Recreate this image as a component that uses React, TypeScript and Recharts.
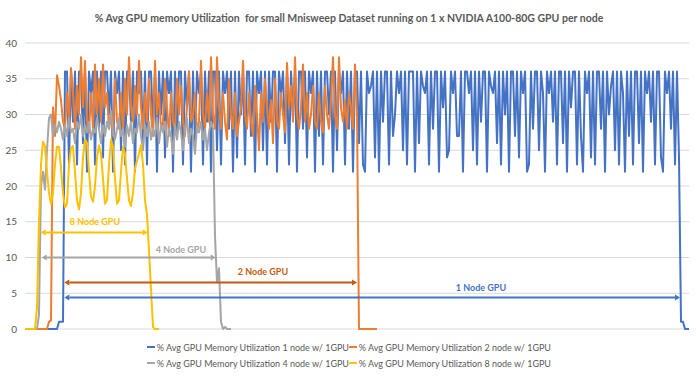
import React from 'react';
import { LineChart, Line, XAxis, YAxis, CartesianGrid, Legend, ReferenceLine, ReferenceDot } from 'recharts';

const title = '% Avg GPU memory Utilization  for small Mnisweep Dataset running on 1 x NVIDIA A100-80G GPU per node';

const yTicks = [0, 5, 10, 15, 20, 25, 30, 35, 40];

// one sample every step of the x axis
const blue1Node = [
  0, 0, 0, 0, 0, 0, 0, 0, 0, 0, 0, 0, 0, 0, 0, 0, 0, 1, 1, 1,
  36, 36, 23, 36, 29, 36, 23, 36, 36, 26, 36, 22, 36, 33, 36, 23, 36, 28, 36, 24,
  36, 36, 30, 36, 22, 36, 33, 36, 25, 36, 23, 36, 36, 29, 36, 22, 36, 33, 36, 26,
  36, 23, 36, 36, 28, 36, 22, 36, 30, 36, 24, 36, 33, 36, 22, 36, 27, 36, 36, 23,
  36, 31, 36, 22, 36, 26, 36, 33, 36, 23, 36, 29, 36, 22, 36, 36, 25, 36, 23, 36,
  33, 36, 28, 36, 22, 36, 24, 36, 30, 36, 23, 36, 36, 27, 36, 22, 36, 33, 36, 25,
  36, 23, 36, 29, 36, 36, 22, 36, 33, 36, 26, 36, 23, 36, 30, 36, 22, 36, 36, 28,
  36, 24, 36, 33, 36, 22, 36, 27, 36, 23, 36, 36, 30, 36, 22, 36, 25, 36, 33, 36,
  23, 36, 28, 36, 22, 36, 36, 26, 36, 23, 22, 36, 33, 34, 36, 24, 36, 22, 36, 29,
  36, 36, 23, 36, 27, 30, 36, 33, 36, 25, 36, 23, 36, 36, 36, 22, 36, 26, 36, 34,
  33, 36, 23, 36, 28, 36, 36, 22, 36, 31, 36, 24, 25, 36, 33, 36, 27, 27, 36, 22,
  36, 36, 33, 36, 25, 36, 23, 36, 29, 36, 36, 22, 36, 34, 33, 36, 26, 36, 23, 36,
  30, 36, 22, 36, 36, 27, 36, 24, 36, 33, 36, 22, 23, 36, 28, 36, 36, 25, 36, 33,
  22, 36, 33, 36, 29, 36, 23, 36, 36, 26, 36, 22, 36, 31, 36, 36, 23, 36, 27, 22,
  36, 33, 36, 24, 36, 23, 36, 36, 28, 36, 22, 36, 30, 34, 36, 25, 36, 23, 36, 33,
  22, 36, 27, 36, 23, 36, 36, 26, 36, 22, 36, 33, 36, 29, 36, 23, 36, 36, 24, 22,
  36, 33, 36, 28, 36, 23, 36, 24,
  1, 1, 0, 0, 0,
];

const orange2Node = [
  0, 0, 0, 0, 0, 0, 0, 0, 0, 0, 0, 0, 1, 1.2,
  31, 27, 35.5, 34, 32, 29, 28, 33, 29, 36.5, 33, 28, 34, 30, 38, 31, 37.5, 29, 27.5, 33,
  28, 37, 30, 35, 29, 37, 31, 33, 28, 30, 27, 35, 29, 28, 33, 27.5, 35, 30, 38, 31,
  29, 34, 30, 37.5, 31, 28, 33, 29, 35, 30, 27, 37.5, 30, 33, 28, 29, 35, 31, 27, 33,
  29, 28, 35, 30, 34, 29, 27, 31, 36, 29, 30, 33, 27.5, 29, 37.5, 30, 28, 33, 29, 38,
  30, 28, 38, 31, 28, 33, 29, 26.5, 35, 30, 28, 33, 27, 29, 31, 37.5, 30, 28, 33, 29,
  27, 34, 30, 25, 33, 29, 35, 31, 28, 32, 26, 35, 29, 28, 33, 30, 27.5, 37.2, 31, 34,
  29, 38, 30, 28, 31, 37, 29, 33, 28, 30, 34, 29, 28, 33, 29, 27.5, 34, 30, 28, 32,
  38, 30, 28, 38, 31, 29, 32, 28, 33, 31, 28, 37, 30,
  0, 0, 0, 0, 0, 0, 0, 0, 0, 0,
];

const gray4Node = [
  0, 0, 0, 0, 0, 0, 0, 2, 20, 22, 19.5, 25,
  29.5, 30, 27, 28.5, 27.5, 29, 28, 26.5, 28.5, 27, 29.5, 27.5, 28, 26, 29, 28, 30, 27, 28.5, 27.5,
  29, 26.5, 28, 27.5, 29.5, 28, 26, 28.5, 27, 29, 28, 30.5, 27.5, 26.5, 28, 29.5, 27, 28, 25.5, 28.5,
  27, 29, 26, 28, 27.5, 30, 27, 25, 28.5, 27, 29, 26.5, 28, 27, 29.5, 26, 28.5, 27.5, 29, 25.5,
  28, 27, 24.5, 28.5, 26.5, 29, 27.5, 25, 28, 29.5, 26, 28, 27, 24.5, 28.5, 27.5, 29, 26.5, 28, 25, 27.5, 29,
  28, 13, 6.5, 8.5, 1, 0, 0.3, 0, 0, 0,
];

const yellow8Node = [
  0, 0, 0, 0, 0, 0, 3, 15, 23, 26.2, 25.5, 22, 19, 17.5, 19, 23, 25.5, 25.5, 22.5, 19,
  17, 17.5, 23, 25.3, 25.6, 22, 18, 16.7, 19, 24, 26.5, 26, 22, 18.5, 17.8, 20, 24, 25.7, 24.5, 21,
  17.5, 18, 23, 26.5, 25.5, 21, 17.5, 18, 22, 25.5, 24.5, 21, 18, 17.2, 19, 22.5, 23.5, 24.5, 25.7, 23,
  18, 16, 11, 5.5, 0.3, 0, 0, 0,
];

const seriesNames = [
  '% Avg GPU Memory Utilization 1 node w/ 1GPU',
  '% Avg GPU Memory Utilization 2 node w/ 1GPU',
  '% Avg GPU Memory Utilization 4 node w/ 1GPU',
  '% Avg GPU Memory Utilization 8 node w/ 1GPU',
];
const seriesKeys = ['blue', 'orange', 'gray', 'yellow'];
const seriesColors = ['#4472C4', '#ED7D31', '#A5A5A5', '#FFC000'];

// run-length annotations: [start, end, level], label [x, y]
const spanLabels = ['1 Node GPU', '2 Node GPU', '4 Node GPU', '8 Node GPU'];
const spanColors = ['#4472C4', '#C55A11', '#A5A5A5', '#FFC000'];
const spanStart = [19.65, 19.65, 8.35, 7.85];
const spanEnd = [327.5, 166, 95.35, 61.35];
const spanLevel = [4.4, 6.5, 10, 13.5];
const labelX = [228, 119, 78, 35];
const labelY = [5.8, 8.0, 11.1, 15];

const xMax = 332;

const data = blue1Node.map((b, i) => ({
  x: i,
  blue: b,
  orange: orange2Node[i],
  gray: gray4Node[i],
  yellow: yellow8Node[i],
}));

const FONT = 'Lato, "Open Sans", Arial, sans-serif';

const arrowShape = (color: string) => (props: any) => {
  const { x1, y1, x2, y2 } = props;
  const h = 5;
  const w = 3;
  return (
    <g>
      <line x1={x1 + h} y1={y1} x2={x2 - h} y2={y2} stroke={color} strokeWidth={2} />
      <polygon points={`${x1},${y1} ${x1 + h},${y1 - w} ${x1 + h},${y1 + w}`} fill={color} />
      <polygon points={`${x2},${y2} ${x2 - h},${y2 - w} ${x2 - h},${y2 + w}`} fill={color} />
    </g>
  );
};

const LegendBlock = () => (
  <div style={{ height: 45, paddingTop: 10, boxSizing: 'border-box', fontFamily: FONT, fontSize: 9, color: '#595959' }}>
    {[0, 2].map((row) => (
      <div key={row} style={{ display: 'flex', justifyContent: 'center', height: 16, alignItems: 'center' }}>
        {[row, row + 1].map((k) => (
          <div key={k} style={{ width: 202, display: 'flex', alignItems: 'center', whiteSpace: 'nowrap' }}>
            <span style={{ display: 'inline-block', width: 15, height: 2, background: seriesColors[k], marginRight: 2 }} />
            <span>{seriesNames[k]}</span>
          </div>
        ))}
      </div>
    ))}
  </div>
);

export default function App() {
  return (
    <div style={{ position: 'absolute', left: 0, top: 0, width: 698, height: 388, background: '#fff' }}>
      <div
        style={{
          position: 'absolute', top: 11, left: 0, width: 698, textAlign: 'center', whiteSpace: 'pre',
          fontFamily: FONT, fontWeight: 700, fontSize: 10.5, lineHeight: '14px', color: '#595959',
        }}
      >
        {title}
      </div>
      <LineChart width={698} height={388} data={data} margin={{ top: 43, right: 9, bottom: 14, left: 0 }}>
        <CartesianGrid vertical={false} stroke="#D9D9D9" />
        <XAxis type="number" dataKey="x" domain={[0, xMax]} hide />
        <YAxis
          width={25}
          domain={[0, 40]}
          ticks={yTicks}
          axisLine={false}
          tickLine={false}
          tick={{ fill: '#595959', fontSize: 10, fontFamily: FONT }}
        />
        {seriesKeys.map((k, i) => (
          <Line
            key={k}
            type="linear"
            dataKey={k}
            name={seriesNames[i]}
            stroke={seriesColors[i]}
            strokeWidth={2}
            dot={false}
            isAnimationActive={false}
            strokeLinejoin="round"
          />
        ))}
        {spanLabels.map((lab, i) => (
          <ReferenceLine
            key={lab}
            segment={[{ x: spanStart[i], y: spanLevel[i] }, { x: spanEnd[i], y: spanLevel[i] }]}
            shape={arrowShape(spanColors[i])}
          />
        ))}
        {spanLabels.map((lab, i) => (
          <ReferenceDot
            key={lab + 'l'}
            x={labelX[i]}
            y={labelY[i]}
            r={1}
            shape={(p: any) => (
              <text
                x={p.cx}
                y={p.cy}
                textAnchor="middle"
                dominantBaseline="central"
                fill={spanColors[i]}
                fontFamily={FONT}
                fontWeight={700}
                fontSize={9}
              >
                {lab}
              </text>
            )}
          />
        ))}
        <Legend verticalAlign="bottom" wrapperStyle={{ left: 0, width: 698 }} content={() => <LegendBlock />} />
      </LineChart>
    </div>
  );
}
